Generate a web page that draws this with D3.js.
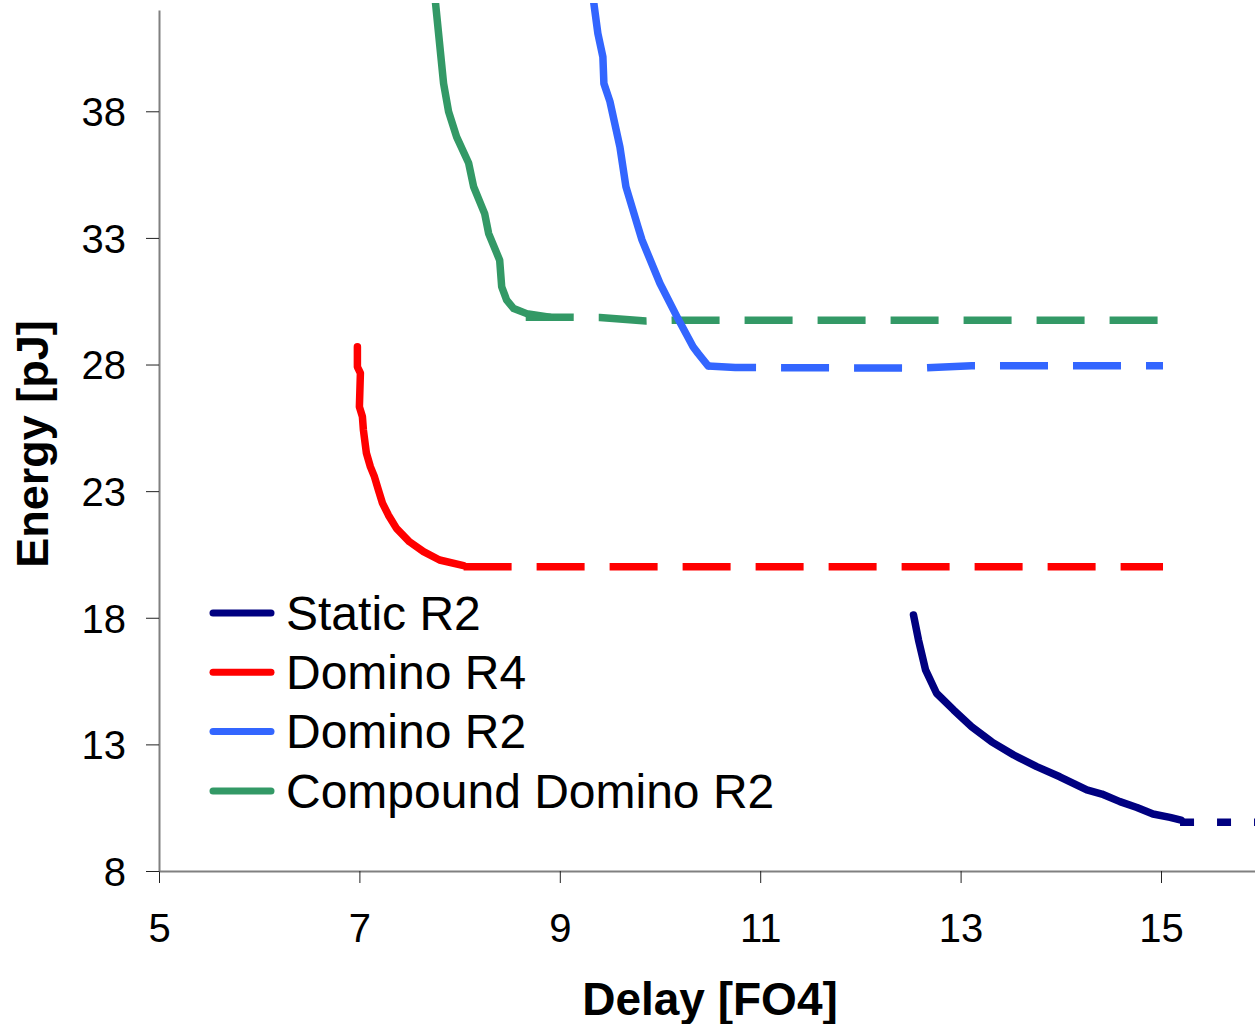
<!DOCTYPE html>
<html>
<head>
<meta charset="utf-8">
<script src="https://cdn.jsdelivr.net/npm/d3@7"></script>
<style>
  body { margin: 0; background: #fff; }
  svg { display: block; font-family: "Liberation Sans", Arial, sans-serif; }
</style>
</head>
<body>
<div id="chart"></div>
<script>
// data: [delay (FO4), energy (pJ)]
const xTicks = [5, 7, 9, 11, 13, 15];
const yTicks = [8, 13, 18, 23, 28, 33, 38];
const seriesNames = ['Static R2', 'Domino R4', 'Domino R2', 'Compound Domino R2'];

const staticR2 = [[12.53,18.11],[12.58,17.12],[12.65,15.94],[12.76,15.02],[12.93,14.36],[13.11,13.70],
    [13.31,13.10],[13.53,12.58],[13.76,12.12],[13.99,11.72],[14.26,11.20],[14.41,11.04],[14.59,10.74],
    [14.76,10.51],[14.92,10.25],[15.09,10.12],[15.20,10.01]];
const staticR2Tail = [[15.19,9.93],[16.3,9.93]];

const dominoR4 = [[6.98,28.70],[6.98,27.91],[7.01,27.66],[7.00,26.33],[7.03,25.94],[7.04,25.41],
    [7.07,24.50],[7.11,23.96],[7.15,23.57],[7.19,23.04],[7.23,22.53],[7.29,22.05],[7.37,21.53],
    [7.50,21.00],[7.64,20.61],[7.80,20.28],[8.04,20.06]];
const dominoR4Tail = [[8.04,20.01],[15.02,20.01]];

const dominoR2 = [[9.34,42.26],[9.38,41.07],[9.43,40.15],[9.44,39.10],[9.50,38.39],[9.60,36.59],
    [9.66,35.02],[9.78,33.44],[9.82,32.92],[10.00,31.20],[10.17,29.88],[10.33,28.70],[10.38,28.44],
    [10.48,27.95]];
const dominoR2Tail = [[10.48,27.94],[10.75,27.88],[12.62,27.86],[13.11,27.95],[15.02,27.95]];

const compoundR2 = [[7.76,42.26],[7.84,39.10],[7.89,37.99],[7.97,36.99],[8.09,35.96],[8.14,35.02],
    [8.25,33.96],[8.29,33.17],[8.40,32.12],[8.42,31.07],[8.47,30.54],[8.54,30.21],[8.67,30.01],
    [8.90,29.87]];
const compoundR2Tail = [[8.66,29.87],[9.40,29.86],[9.86,29.72],[10.13,29.75],[15.02,29.75]];

const colors = ['#000080', '#ff0000', '#3366ff', '#339966'];

const width = 1255;
const height = 1024;

const svg = d3.select('#chart').append('svg')
    .attr('width', width)
    .attr('height', height);

const xScale = d3.scaleLinear().domain([5, 16]).range([159, 1261.2]);
const yScale = d3.scaleLinear().domain([8, 42]).range([871, 10]);

svg.append('clipPath').attr('id', 'plot-clip')
    .append('rect')
    .attr('x', 0).attr('y', 3)
    .attr('width', width).attr('height', 900);

// axes
const xAxis = d3.axisBottom(xScale).tickValues(xTicks).tickSize(12).tickSizeOuter(0);
const yAxis = d3.axisLeft(yScale).tickValues(yTicks).tickSize(13).tickSizeOuter(0);

const xAxisGroup = svg.append('g')
    .attr('transform', 'translate(0,871)')
    .call(xAxis);
xAxisGroup.selectAll('text')
    .attr('y', 71).attr('dy', 0)
    .attr('font-size', 40).attr('font-family', '"Liberation Sans", Arial, sans-serif')
    .attr('fill', '#000');

const yAxisGroup = svg.append('g')
    .attr('transform', 'translate(159,0)')
    .call(yAxis);
yAxisGroup.selectAll('text')
    .attr('x', -33).attr('dy', '0.36em')
    .attr('font-size', 40).attr('font-family', '"Liberation Sans", Arial, sans-serif')
    .attr('fill', '#000');

svg.selectAll('.domain').attr('stroke', '#808080').attr('stroke-width', 2);
svg.selectAll('.tick line').attr('stroke', '#222').attr('stroke-width', 1);

// axis titles
svg.append('text')
    .attr('x', 710).attr('y', 1015)
    .attr('text-anchor', 'middle')
    .attr('font-size', 46).attr('font-weight', 'bold')
    .text('Delay [FO4]');

svg.append('text')
    .attr('transform', 'translate(48,444) rotate(-90)')
    .attr('text-anchor', 'middle')
    .attr('font-size', 45).attr('font-weight', 'bold')
    .text('Energy [pJ]');

// lines
const line = d3.line()
    .x(d => xScale(d[0]))
    .y(d => yScale(d[1]));

const plot = svg.append('g').attr('clip-path', 'url(#plot-clip)');

const solids = [staticR2, dominoR4, dominoR2, compoundR2];
const tails = [staticR2Tail, dominoR4Tail, dominoR2Tail, compoundR2Tail];
const dashes = ['14,23', '48,25', '48,25', '48,25'];

tails.forEach((t, i) => {
    plot.append('path')
        .datum(t)
        .attr('d', line)
        .attr('fill', 'none')
        .attr('stroke', colors[i])
        .attr('stroke-width', 7.5)
        .attr('stroke-linecap', 'butt')
        .attr('stroke-dasharray', dashes[i]);
});

solids.forEach((s, i) => {
    plot.append('path')
        .datum(s)
        .attr('d', line)
        .attr('fill', 'none')
        .attr('stroke', colors[i])
        .attr('stroke-width', 7.5)
        .attr('stroke-linecap', 'round')
        .attr('stroke-linejoin', 'round');
});

// legend
const legend = svg.append('g');
const rows = legend.selectAll('g')
    .data(seriesNames)
    .join('g')
    .attr('transform', (d, i) => 'translate(0,' + (613 + i * 59.3) + ')');

rows.append('line')
    .attr('x1', 213).attr('x2', 271)
    .attr('stroke', (d, i) => colors[i])
    .attr('stroke-width', 7)
    .attr('stroke-linecap', 'round');

rows.append('text')
    .attr('x', 286).attr('dy', '0.35em')
    .attr('font-size', 48)
    .attr('fill', '#000')
    .text(d => d);
</script>
</body>
</html>
